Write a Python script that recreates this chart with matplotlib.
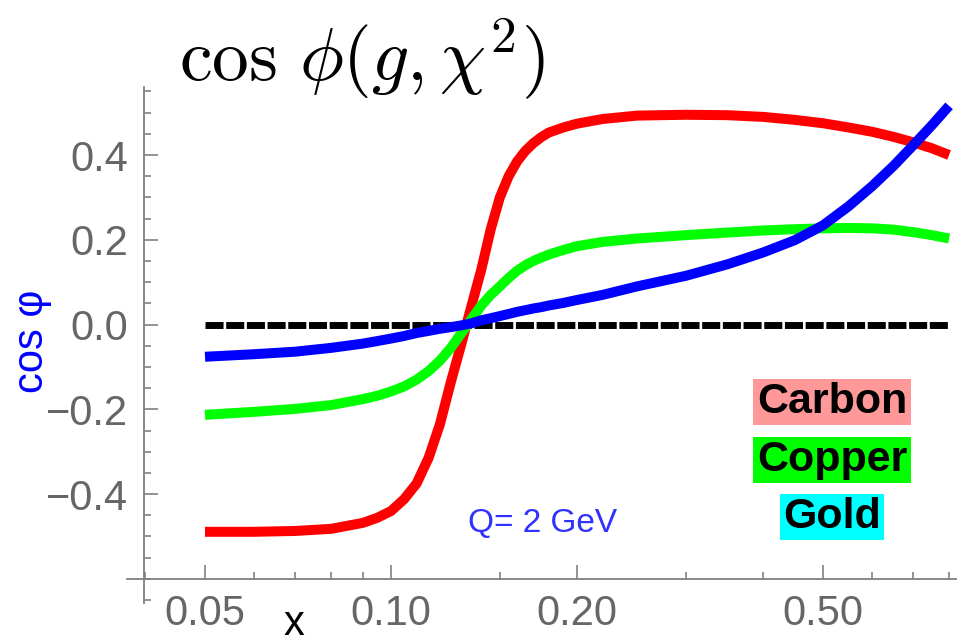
import numpy as np
import matplotlib
matplotlib.use("Agg")
import matplotlib.pyplot as plt
from matplotlib.ticker import FixedLocator, NullFormatter

plt.rcParams['font.family'] = ['Liberation Sans', 'DejaVu Sans']
plt.rcParams['mathtext.fontset'] = 'cm'

# x values (log scale) and cos(phi) for the three nuclei
x = [0.05, 0.06, 0.07, 0.08, 0.09, 0.095, 0.10, 0.105, 0.11, 0.115, 0.12,
     0.125, 0.13, 0.135, 0.14, 0.145, 0.15, 0.155, 0.16, 0.165, 0.17, 0.175,
     0.18, 0.19, 0.20, 0.22, 0.25, 0.30, 0.35, 0.40, 0.45, 0.50, 0.55, 0.60,
     0.65, 0.70, 0.75, 0.80]
carbon = [-0.489, -0.489, -0.487, -0.482, -0.468, -0.456, -0.44, -0.412, -0.375,
          -0.315, -0.235, -0.135, -0.045, 0.045, 0.13, 0.225, 0.30, 0.35, 0.385,
          0.41, 0.428, 0.442, 0.453, 0.465, 0.474, 0.485, 0.493, 0.495, 0.494,
          0.49, 0.483, 0.475, 0.465, 0.455, 0.443, 0.43, 0.416, 0.40]
copper = [-0.213, -0.206, -0.199, -0.19, -0.176, -0.168, -0.158, -0.146, -0.13,
          -0.11, -0.085, -0.055, -0.02, 0.013, 0.045, 0.07, 0.09, 0.11, 0.127,
          0.14, 0.15, 0.158, 0.165, 0.176, 0.185, 0.195, 0.203, 0.211, 0.217,
          0.222, 0.225, 0.227, 0.228, 0.227, 0.224, 0.218, 0.211, 0.203]
gold = [-0.076, -0.07, -0.064, -0.055, -0.045, -0.039, -0.033, -0.027, -0.02,
        -0.015, -0.01, -0.006, -0.002, 0.003, 0.01, 0.015, 0.02, 0.025, 0.03,
        0.034, 0.038, 0.041, 0.045, 0.051, 0.058, 0.07, 0.09, 0.115, 0.142,
        0.17, 0.199, 0.234, 0.279, 0.326, 0.374, 0.423, 0.47, 0.516]

names = ['Carbon', 'Copper', 'Gold']
colors = ['#ff0000', '#00ff00', '#0000ff']
box_colors = ['#ff9999', '#00ff00', '#00ffff']

major_x = [0.05, 0.1, 0.2, 0.5]
major_x_labels = ['0.05', '0.10', '0.20', '0.50']
minor_x = [0.04, 0.06, 0.07, 0.08, 0.09, 0.15, 0.3, 0.4, 0.6, 0.7, 0.8]
major_y = [-0.4, -0.2, 0.0, 0.2, 0.4]
major_y_labels = ['\u22120.4', '\u22120.2', '0.0', '0.2', '0.4']

fig = plt.figure(figsize=(9.57, 6.35), dpi=100)
ax = fig.add_axes([127 / 957, 1 - 603 / 635, 1 - 127 / 957, (603 - 87) / 635])
ax.set_xscale('log')
ax.set_xlim(0.03739, 0.8239)
ax.set_ylim(-0.657, 0.5605)

# zero reference line
ax.plot([x[0], x[-1]], [0, 0], color='black', lw=5, dashes=(2.6, 0.38),
        dash_capstyle='butt', zorder=2)
for ys, c in zip([carbon, copper, gold], colors):
    ax.plot(x, ys, color=c, lw=7.2, solid_capstyle='butt',
            solid_joinstyle='round', zorder=3)

# axes cross inside the plot range, as in Mathematica
axis_col = '#808080'
for s in ['top', 'right']:
    ax.spines[s].set_visible(False)
ax.spines['left'].set_position(('data', 0.0398))
ax.spines['bottom'].set_position(('data', -0.6))
for s in ['left', 'bottom']:
    ax.spines[s].set_color(axis_col)
    ax.spines[s].set_linewidth(1.3)

ax.xaxis.set_major_locator(FixedLocator(major_x))
ax.xaxis.set_minor_locator(FixedLocator(minor_x))
ax.set_xticklabels(major_x_labels)
ax.xaxis.set_minor_formatter(NullFormatter())
ax.yaxis.set_major_locator(FixedLocator(major_y))
ax.yaxis.set_minor_locator(FixedLocator(np.arange(-0.65, 0.56, 0.05)))
ax.set_yticklabels(major_y_labels)

ax.tick_params(which='both', direction='in', color=axis_col, width=1.2,
               labelcolor='#666666', labelsize=30)
ax.tick_params(which='major', length=10)
ax.tick_params(which='minor', length=5)
ax.tick_params(axis='y', pad=11)
ax.tick_params(axis='x', pad=11)

fig.text(294 / 957, 1 - 604 / 635, 'x', fontsize=30, color='black',
         ha='center', va='top')
fig.text(32 / 957, 1 - 341 / 635, 'cos \u03c6', fontsize=30, color='#0000ff',
         rotation=90, ha='center', va='center')
fig.text(362 / 957, 1 - 80 / 635, r'$\cos\,\phi(g,\chi^2)$', fontsize=53,
         color='black', ha='center', va='baseline')
fig.text(543 / 957, 1 - 523 / 635, 'Q= 2 GeV', fontsize=24, color='#3030ff',
         ha='center', va='center')

for name, bc, yc in zip(names, box_colors, [402, 460, 517]):
    fig.text(832 / 957, 1 - yc / 635, name, fontsize=31, fontweight='bold',
             color='black', ha='center', va='center',
             bbox=dict(boxstyle='square,pad=0.08', fc=bc, ec='none'))

fig.savefig('out.png', dpi=100)
